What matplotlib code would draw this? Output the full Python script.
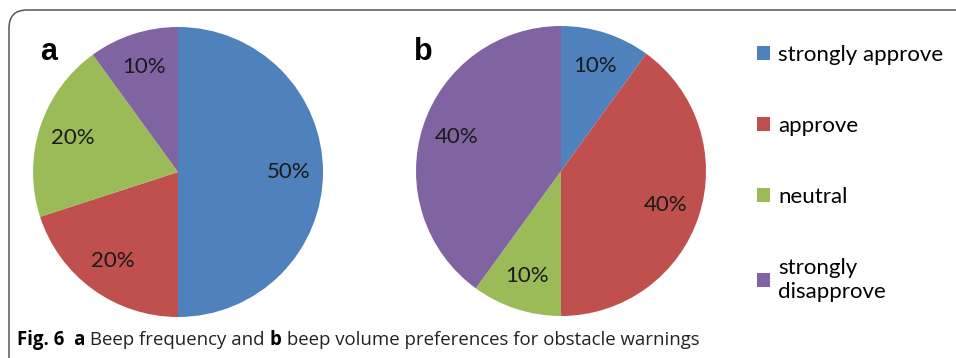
import matplotlib.pyplot as plt
from matplotlib.path import Path
from matplotlib.patches import PathPatch

# data
categories = ['strongly approve', 'approve', 'neutral', 'strongly\ndisapprove']
freq_pct = [50, 20, 20, 10]     # a: beep frequency
volume_pct = [10, 40, 10, 40]   # b: beep volume
colors = ['#4F81BD', '#C0504D', '#9BBB59', '#8064A2']

W, H = 956, 358
fig = plt.figure(figsize=(W / 100, H / 100), dpi=100)


def px_axes(x0, y0, w, h):
    # axes from pixel box (top-left origin)
    return fig.add_axes([x0 / W, (H - y0 - h) / H, w / W, h / H])


def draw_pie(ax, vals):
    wedges, texts, autotexts = ax.pie(
        vals, colors=colors, startangle=90, counterclock=False,
        autopct='%d%%', pctdistance=0.76, radius=1,
        wedgeprops=dict(linewidth=0),
        textprops=dict(fontsize=16, family='Lato', color='#1a1a1a'))
    ax.set_xlim(-1, 1)
    ax.set_ylim(-1, 1)
    ax.set_aspect('equal')
    return wedges


ax_a = px_axes(33, 27, 290, 290)
wedges = draw_pie(ax_a, freq_pct)
ax_b = px_axes(416, 26, 290, 290)
draw_pie(ax_b, volume_pct)

fig.text(40 / W, 1 - 52 / H, 'a', fontsize=22, fontweight='bold',
         family='Liberation Sans', va='center', ha='left')
fig.text(414 / W, 1 - 52 / H, 'b', fontsize=22, fontweight='bold',
         family='Liberation Sans', va='center', ha='left')

fig.legend(wedges, categories, loc='upper left',
           bbox_to_anchor=(757 / W, 1 - 45 / H), frameon=False,
           prop=dict(family='Lato', size=16), labelspacing=2.3,
           handlelength=0.6, handleheight=0.6, handletextpad=0.35,
           borderpad=0, borderaxespad=0)

# rounded frame (left and top edges only)
r = 18
verts = [(9, H), (9, 10 + r), (9, 10), (9 + r, 10), (W, 10)]
codes = [Path.MOVETO, Path.LINETO, Path.CURVE3, Path.CURVE3, Path.LINETO]
verts = [(x / W, 1 - y / H) for x, y in verts]
fig.patches.append(PathPatch(Path(verts, codes), transform=fig.transFigure,
                             fill=False, edgecolor='#555555', linewidth=1.1))

# caption
cap_y = 1 - 340 / H
fs = 13.4
t1 = fig.text(17 / W, cap_y, 'Fig. 6  a', fontsize=fs, fontweight='bold',
              family='Open Sans', va='center', ha='left')
fig.canvas.draw()
r_ = fig.canvas.get_renderer()
x = t1.get_window_extent(r_).x1
t2 = fig.text(x / W, cap_y, ' Beep frequency and ', fontsize=fs,
              family='Open Sans', va='center', ha='left', color='#222222')
x = t2.get_window_extent(r_).x1
t3 = fig.text(x / W, cap_y, 'b', fontsize=fs, fontweight='bold',
              family='Open Sans', va='center', ha='left')
x = t3.get_window_extent(r_).x1
fig.text(x / W, cap_y, ' beep volume preferences for obstacle warnings',
         fontsize=fs, family='Open Sans', va='center', ha='left',
         color='#222222')

fig.savefig('out.png', dpi=100)
